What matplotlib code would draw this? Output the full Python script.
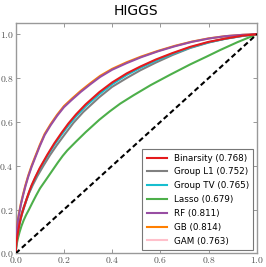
"""ROC curves for the HIGGS dataset."""

import matplotlib

matplotlib.use("Agg")
import matplotlib.pyplot as plt
from matplotlib.ticker import FuncFormatter

plt.rcParams["mathtext.fontset"] = "cm"

# ROC points (FPR, TPR)
binarsity_fpr = [0, 0.001, 0.003, 0.006, 0.010, 0.015, 0.021, 0.027, 0.034, 0.045, 0.055, 0.066, 0.08, 0.10, 0.131, 0.16, 0.19,
                 0.218, 0.25, 0.29, 0.347, 0.40, 0.46, 0.516, 0.58, 0.65, 0.723, 0.80, 0.87, 0.94, 1.0]
binarsity_tpr = [0, 0.022, 0.045, 0.072, 0.10, 0.13, 0.16, 0.185, 0.21, 0.247, 0.279, 0.311, 0.345, 0.39, 0.45, 0.502, 0.55,
                 0.592, 0.634, 0.68, 0.736, 0.78, 0.821, 0.852, 0.884, 0.914, 0.942, 0.965, 0.98, 0.993, 1.0]

l1_fpr = [0, 0.001, 0.003, 0.006, 0.010, 0.015, 0.021, 0.027, 0.034, 0.045, 0.055, 0.070, 0.09, 0.115, 0.142, 0.17, 0.20,
          0.239, 0.28, 0.347, 0.40, 0.46, 0.516, 0.58, 0.65, 0.723, 0.80, 0.87, 0.94, 1.0]
l1_tpr = [0, 0.03, 0.058, 0.086, 0.113, 0.14, 0.168, 0.19, 0.213, 0.246, 0.274, 0.31, 0.353, 0.40, 0.448, 0.493, 0.538,
          0.595, 0.645, 0.713, 0.76, 0.80, 0.835, 0.87, 0.905, 0.937, 0.962, 0.98, 0.992, 1.0]

tv_fpr = [0, 0.001, 0.003, 0.006, 0.010, 0.015, 0.021, 0.027, 0.034, 0.045, 0.055, 0.066, 0.08, 0.10, 0.131, 0.16, 0.19,
          0.218, 0.25, 0.29, 0.347, 0.40, 0.46, 0.516, 0.58, 0.65, 0.723, 0.80, 0.87, 0.94, 1.0]
tv_tpr = [0, 0.022, 0.045, 0.072, 0.10, 0.13, 0.159, 0.184, 0.208, 0.245, 0.277, 0.308, 0.342, 0.386, 0.445, 0.495, 0.542,
          0.583, 0.625, 0.671, 0.727, 0.772, 0.814, 0.846, 0.879, 0.91, 0.939, 0.963, 0.979, 0.992, 1.0]

lasso_fpr = [0, 0.001, 0.003, 0.006, 0.010, 0.016, 0.024, 0.033, 0.043, 0.055, 0.07, 0.085, 0.101, 0.125, 0.15, 0.175, 0.195,
             0.214, 0.25, 0.29, 0.347, 0.39, 0.433, 0.488, 0.56, 0.64, 0.723, 0.79, 0.848, 0.92, 1.0]
lasso_tpr = [0, 0.014, 0.032, 0.052, 0.072, 0.097, 0.125, 0.151, 0.175, 0.20, 0.233, 0.265, 0.297, 0.335, 0.375, 0.415, 0.445,
             0.47, 0.51, 0.553, 0.61, 0.648, 0.683, 0.721, 0.768, 0.815, 0.862, 0.897, 0.928, 0.964, 1.0]

rf_fpr = [0, 0.001, 0.003, 0.006, 0.010, 0.015, 0.022, 0.030, 0.040, 0.052, 0.066, 0.082, 0.100, 0.120, 0.145, 0.172, 0.200,
          0.232, 0.27, 0.31, 0.35, 0.40, 0.46, 0.52, 0.59, 0.66, 0.73, 0.80, 0.87, 0.94, 1.0]
rf_tpr = [0, 0.04, 0.08, 0.12, 0.155, 0.185, 0.225, 0.262, 0.305, 0.35, 0.395, 0.44, 0.49, 0.54, 0.585, 0.628, 0.667,
          0.70, 0.737, 0.772, 0.805, 0.838, 0.868, 0.895, 0.922, 0.945, 0.965, 0.98, 0.991, 0.997, 1.0]

gb_fpr = [0, 0.001, 0.003, 0.006, 0.010, 0.015, 0.022, 0.030, 0.040, 0.052, 0.066, 0.082, 0.100, 0.120, 0.145, 0.172, 0.200,
          0.232, 0.27, 0.31, 0.35, 0.40, 0.46, 0.52, 0.59, 0.66, 0.73, 0.80, 0.87, 0.94, 1.0]
gb_tpr = [0, 0.042, 0.083, 0.124, 0.159, 0.19, 0.23, 0.267, 0.31, 0.355, 0.40, 0.445, 0.495, 0.545, 0.59, 0.633, 0.672,
          0.705, 0.742, 0.777, 0.81, 0.842, 0.872, 0.898, 0.924, 0.947, 0.966, 0.981, 0.991, 0.997, 1.0]

gam_fpr = [0, 0.001, 0.003, 0.006, 0.010, 0.015, 0.021, 0.027, 0.034, 0.045, 0.055, 0.066, 0.08, 0.10, 0.131, 0.16, 0.19,
           0.218, 0.25, 0.29, 0.347, 0.40, 0.46, 0.516, 0.58, 0.65, 0.723, 0.80, 0.87, 0.94, 1.0]
gam_tpr = [0, 0.021, 0.044, 0.07, 0.098, 0.128, 0.157, 0.182, 0.206, 0.243, 0.275, 0.306, 0.34, 0.385, 0.444, 0.496, 0.544,
           0.586, 0.629, 0.675, 0.732, 0.777, 0.818, 0.85, 0.882, 0.912, 0.941, 0.964, 0.98, 0.993, 1.0]

curves = [
    ("Binarsity (0.768)", binarsity_fpr, binarsity_tpr, "#e41a1c", 7),
    ("Group L1 (0.752)", l1_fpr, l1_tpr, "#808080", 4),
    ("Group TV (0.765)", tv_fpr, tv_tpr, "#17becf", 5),
    ("Lasso (0.679)", lasso_fpr, lasso_tpr, "#4daf4a", 4),
    ("RF (0.811)", rf_fpr, rf_tpr, "#984ea3", 6),
    ("GB (0.814)", gb_fpr, gb_tpr, "#ff7f00", 5),
    ("GAM (0.763)", gam_fpr, gam_tpr, "#ffc0cb", 3),
]

fig = plt.figure(figsize=(2.66, 2.67), dpi=100)
ax = fig.add_axes([0.059, 0.051, 0.907, 0.862])

for label, fpr, tpr, color, z in curves:
    ax.plot(fpr, tpr, color=color, lw=1.5, label=label, zorder=z)
ax.plot([0, 1], [0, 1], color="black", lw=1.5, ls=(0, (2.5, 1.5)), zorder=8)

ax.set_xlim(0, 1)
ax.set_ylim(0, 1.05)
ticks = [0, 0.2, 0.4, 0.6, 0.8, 1.0]
ax.set_xticks(ticks)
ax.set_yticks(ticks)
fmt = FuncFormatter(lambda v, _: rf"${v:.1f}$")
ax.xaxis.set_major_formatter(fmt)
ax.yaxis.set_major_formatter(fmt)
ax.tick_params(direction="in", top=True, right=True, length=3, width=0.6,
               colors="#888888", labelcolor="#555555", labelsize=7, pad=1.5)
for sp in ax.spines.values():
    sp.set_color("#999999")
    sp.set_linewidth(1.0)

ax.set_title("HIGGS", fontsize=10, pad=6)

leg = ax.legend(loc="lower right", fontsize=6.3, fancybox=False, framealpha=1,
                edgecolor="#777777", handlelength=2.3, labelspacing=0.55,
                borderpad=0.5, handletextpad=0.8, borderaxespad=0.4)
leg.get_frame().set_linewidth(0.8)

fig.savefig("out.png", dpi=100)
plt.close(fig)
